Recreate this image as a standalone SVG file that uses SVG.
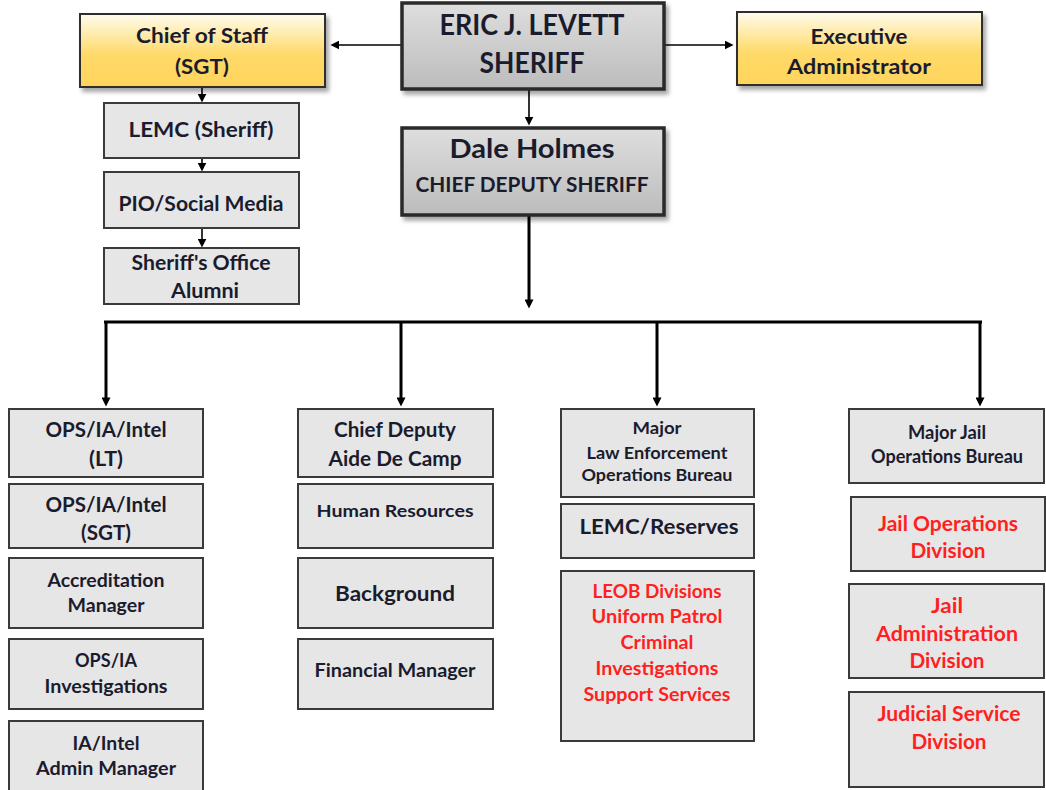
<svg xmlns="http://www.w3.org/2000/svg" width="1046" height="790" viewBox="0 0 1046 790">
<defs>
<linearGradient id="gGray" x1="0" y1="0" x2="0" y2="1">
<stop offset="0" stop-color="#dedede"/>
<stop offset="1" stop-color="#bcbcbc"/>
</linearGradient>
<linearGradient id="gYel" x1="0" y1="0" x2="0" y2="1">
<stop offset="0" stop-color="#fffcee"/>
<stop offset="0.55" stop-color="#ffda6a"/>
<stop offset="1" stop-color="#ffd45a"/>
</linearGradient>
<filter id="shadow" x="-10%" y="-10%" width="130%" height="140%">
<feDropShadow dx="3" dy="4" stdDeviation="2" flood-color="#000" flood-opacity="0.35"/>
</filter>
<marker id="ah" markerUnits="userSpaceOnUse" viewBox="0 0 10 10" refX="6" refY="5" markerWidth="9" markerHeight="9" orient="auto">
<path d="M0,0 L10,5 L0,10 z" fill="#000"/>
</marker>
<marker id="ahb" markerUnits="userSpaceOnUse" viewBox="0 0 10 10" refX="6" refY="5" markerWidth="10" markerHeight="9" orient="auto">
<path d="M0,0 L10,5 L0,10 z" fill="#000"/>
</marker>
</defs>
<style>
text{font-family:Lato,"Open Sans","Liberation Sans",sans-serif;font-weight:bold;fill:#1b1b2e;text-anchor:middle}
.red{fill:#ff1f1f}
.box{fill:#e6e6e6;stroke:#3a3a3a;stroke-width:2}
.main{fill:url(#gGray);stroke:#2a2a2a;stroke-width:3.5;filter:url(#shadow)}
.yel{fill:url(#gYel);stroke:#2e2e2e;stroke-width:2;filter:url(#shadow)}
.thin{stroke:#000;stroke-width:1.6;fill:none;marker-end:url(#ah)}
.thick{stroke:#000;stroke-width:3;fill:none}
.thickA{stroke:#000;stroke-width:3;fill:none;marker-end:url(#ahb)}
</style>
<rect width="1046" height="790" fill="#fff"/>

<g id="connectors">
<line class="thin" x1="401" y1="45" x2="334" y2="45"/>
<line class="thin" x1="664" y1="45" x2="730" y2="45"/>
<line class="thin" x1="529" y1="90" x2="529" y2="122"/>
<line class="thin" x1="202" y1="87" x2="202" y2="99"/>
<line class="thin" x1="202" y1="158" x2="202" y2="168"/>
<line class="thin" x1="202" y1="228" x2="202" y2="244"/>
<line class="thickA" x1="529" y1="216" x2="529" y2="305"/>
<line class="thick" x1="104" y1="322" x2="982" y2="322"/>
<line class="thickA" x1="106" y1="321" x2="106" y2="403"/>
<line class="thickA" x1="401" y1="322" x2="401" y2="403"/>
<line class="thickA" x1="657" y1="322" x2="657" y2="403"/>
<line class="thickA" x1="980" y1="321" x2="980" y2="403"/>
</g>

<g id="sheriff">
<rect class="main" x="402" y="3" width="262" height="86"/>
<text x="532" y="35" font-size="28" textLength="185" lengthAdjust="spacingAndGlyphs">ERIC J. LEVETT</text>
<text x="532" y="73" font-size="28" textLength="105" lengthAdjust="spacingAndGlyphs">SHERIFF</text>
</g>
<g id="chief-of-staff">
<rect class="yel" x="80" y="14" width="245" height="73"/>
<text x="202" y="43" font-size="20" textLength="132" lengthAdjust="spacingAndGlyphs">Chief of Staff</text>
<text x="202" y="74" font-size="20" textLength="54" lengthAdjust="spacingAndGlyphs">(SGT)</text>
</g>
<g id="executive-administrator">
<rect class="yel" x="737" y="12" width="245" height="73"/>
<text x="859" y="44" font-size="20" textLength="97" lengthAdjust="spacingAndGlyphs">Executive</text>
<text x="859" y="74" font-size="20" textLength="144" lengthAdjust="spacingAndGlyphs">Administrator</text>
</g>
<g id="dale-holmes">
<rect class="main" x="402" y="128" width="262" height="87"/>
<text x="532" y="158" font-size="27" textLength="165" lengthAdjust="spacingAndGlyphs">Dale Holmes</text>
<text x="532" y="192" font-size="20" textLength="233" lengthAdjust="spacingAndGlyphs">CHIEF DEPUTY SHERIFF</text>
</g>
<g id="lemc-sheriff">
<rect class="box" x="104" y="103" width="195" height="55"/>
<text x="201" y="137" font-size="21" textLength="145" lengthAdjust="spacingAndGlyphs">LEMC (Sheriff)</text>
</g>
<g id="pio">
<rect class="box" x="104" y="172" width="195" height="56"/>
<text x="201" y="211" font-size="21" textLength="165" lengthAdjust="spacingAndGlyphs">PIO/Social Media</text>
</g>
<g id="alumni">
<rect class="box" x="104" y="248" width="195" height="56"/>
<text x="201" y="270" font-size="20" textLength="139" lengthAdjust="spacingAndGlyphs">Sheriff's Office</text>
<text x="205" y="298" font-size="20" textLength="68" lengthAdjust="spacingAndGlyphs">Alumni</text>
</g>

<g id="ops-lt">
<rect class="box" x="9" y="409" width="194" height="68"/>
<text x="106" y="437" font-size="20" textLength="121" lengthAdjust="spacingAndGlyphs">OPS/IA/Intel</text>
<text x="106" y="466" font-size="20" textLength="34" lengthAdjust="spacingAndGlyphs">(LT)</text>
</g>
<g id="ops-sgt">
<rect class="box" x="9" y="484" width="194" height="64"/>
<text x="106" y="512" font-size="20" textLength="121" lengthAdjust="spacingAndGlyphs">OPS/IA/Intel</text>
<text x="106" y="540" font-size="20" textLength="50" lengthAdjust="spacingAndGlyphs">(SGT)</text>
</g>
<g id="accreditation">
<rect class="box" x="9" y="558" width="194" height="70"/>
<text x="106" y="587" font-size="18.5" textLength="117" lengthAdjust="spacingAndGlyphs">Accreditation</text>
<text x="106" y="612" font-size="18.5" textLength="77" lengthAdjust="spacingAndGlyphs">Manager</text>
</g>
<g id="ops-ia">
<rect class="box" x="9" y="639" width="194" height="70"/>
<text x="106" y="667" font-size="18.5" textLength="62" lengthAdjust="spacingAndGlyphs">OPS/IA</text>
<text x="106" y="693" font-size="18.5" textLength="123" lengthAdjust="spacingAndGlyphs">Investigations</text>
</g>
<g id="ia-admin">
<rect class="box" x="9" y="721" width="194" height="80"/>
<text x="106" y="750" font-size="18.5" textLength="67" lengthAdjust="spacingAndGlyphs">IA/Intel</text>
<text x="106" y="775" font-size="18.5" textLength="140" lengthAdjust="spacingAndGlyphs">Admin Manager</text>
</g>

<g id="aide-de-camp">
<rect class="box" x="298" y="409" width="195" height="68"/>
<text x="395" y="437" font-size="20" textLength="122" lengthAdjust="spacingAndGlyphs">Chief Deputy</text>
<text x="395" y="466" font-size="20" textLength="133" lengthAdjust="spacingAndGlyphs">Aide De Camp</text>
</g>
<g id="human-resources">
<rect class="box" x="298" y="484" width="195" height="64"/>
<text x="395" y="517" font-size="17.5" textLength="157" lengthAdjust="spacingAndGlyphs">Human Resources</text>
</g>
<g id="background">
<rect class="box" x="298" y="558" width="195" height="70"/>
<text x="395" y="601" font-size="20.5" textLength="120" lengthAdjust="spacingAndGlyphs">Background</text>
</g>
<g id="financial-manager">
<rect class="box" x="298" y="639" width="195" height="70"/>
<text x="395" y="677" font-size="18.5" textLength="161" lengthAdjust="spacingAndGlyphs">Financial Manager</text>
</g>

<g id="major-leob">
<rect class="box" x="561" y="409" width="193" height="88"/>
<text x="657" y="434" font-size="17" textLength="49" lengthAdjust="spacingAndGlyphs">Major</text>
<text x="657" y="459" font-size="17" textLength="141" lengthAdjust="spacingAndGlyphs">Law Enforcement</text>
<text x="657" y="481" font-size="17" textLength="151" lengthAdjust="spacingAndGlyphs">Operations Bureau</text>
</g>
<g id="lemc-reserves">
<rect class="box" x="561" y="504" width="193" height="54"/>
<text x="659" y="534" font-size="21" textLength="159" lengthAdjust="spacingAndGlyphs">LEMC/Reserves</text>
</g>
<g id="leob-divisions">
<rect class="box" x="561" y="571" width="193" height="170"/>
<text class="red" x="657" y="598" font-size="18.5" textLength="129" lengthAdjust="spacingAndGlyphs">LEOB Divisions</text>
<text class="red" x="657" y="623" font-size="18.5" textLength="131" lengthAdjust="spacingAndGlyphs">Uniform Patrol</text>
<text class="red" x="657" y="649" font-size="18.5" textLength="73" lengthAdjust="spacingAndGlyphs">Criminal</text>
<text class="red" x="657" y="675" font-size="18.5" textLength="123" lengthAdjust="spacingAndGlyphs">Investigations</text>
<text class="red" x="657" y="701" font-size="18.5" textLength="147" lengthAdjust="spacingAndGlyphs">Support Services</text>
</g>

<g id="major-jail">
<rect class="box" x="849" y="409" width="195" height="74"/>
<text x="947" y="439" font-size="18" textLength="78" lengthAdjust="spacingAndGlyphs">Major Jail</text>
<text x="947" y="463" font-size="18" textLength="152" lengthAdjust="spacingAndGlyphs">Operations Bureau</text>
</g>
<g id="jail-operations">
<rect class="box" x="851" y="497" width="194" height="74"/>
<text class="red" x="948" y="531" font-size="21" textLength="140" lengthAdjust="spacingAndGlyphs">Jail Operations</text>
<text class="red" x="948" y="558" font-size="21" textLength="75" lengthAdjust="spacingAndGlyphs">Division</text>
</g>
<g id="jail-administration">
<rect class="box" x="849" y="584" width="195" height="94"/>
<text class="red" x="947" y="613" font-size="21" textLength="32" lengthAdjust="spacingAndGlyphs">Jail</text>
<text class="red" x="947" y="641" font-size="21" textLength="142" lengthAdjust="spacingAndGlyphs">Administration</text>
<text class="red" x="947" y="668" font-size="21" textLength="75" lengthAdjust="spacingAndGlyphs">Division</text>
</g>
<g id="judicial-service">
<rect class="box" x="849" y="692" width="195" height="95"/>
<text class="red" x="949" y="721" font-size="21" textLength="143" lengthAdjust="spacingAndGlyphs">Judicial Service</text>
<text class="red" x="949" y="749" font-size="21" textLength="75" lengthAdjust="spacingAndGlyphs">Division</text>
</g>
</svg>
